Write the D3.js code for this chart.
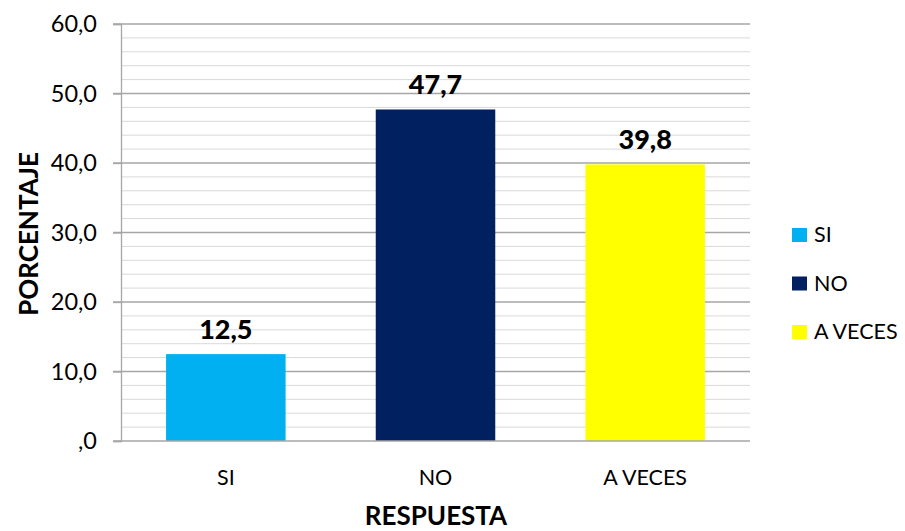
<!DOCTYPE html>
<html>
<head>
<meta charset="utf-8">
<script src="https://cdn.jsdelivr.net/npm/d3@7"></script>
<style>
  body { margin: 0; background: #fff; }
  svg text { font-family: Lato, "Open Sans", sans-serif; fill: #000; }
</style>
</head>
<body>
<svg id="chart" width="905" height="531"></svg>
<script>
// chart data
const categories = ["SI", "NO", "A VECES"];
const values = [12.5, 47.7, 39.8];
const colors = ["#00B0F0", "#002060", "#FFFF00"];
const yTicks = [0, 10, 20, 30, 40, 50, 60];

const svg = d3.select("#chart");
const plotLeft = 121, plotRight = 750, plotTop = 24, plotBottom = 441;

const x = d3.scaleBand()
  .domain(categories)
  .range([plotLeft, plotRight])
  .paddingInner(0.43)
  .paddingOuter(0.215);

const y = d3.scaleLinear().domain([0, 60]).range([plotBottom, plotTop]);

const fmt = v => v === 0 ? ",0" : v.toFixed(1).replace(".", ",");

// minor gridlines every 2
const minor = d3.range(2, 60, 2).filter(v => v % 10 !== 0);
svg.append("g").selectAll("line")
  .data(minor)
  .enter().append("line")
  .attr("x1", plotLeft).attr("x2", plotRight)
  .attr("y1", d => y(d)).attr("y2", d => y(d))
  .attr("stroke", "#d9d9d9").attr("stroke-width", 1);

// major gridlines
svg.append("g").selectAll("line")
  .data(yTicks.filter(v => v > 0))
  .enter().append("line")
  .attr("x1", plotLeft - 8).attr("x2", plotRight)
  .attr("y1", d => y(d)).attr("y2", d => y(d))
  .attr("stroke", "#a6a6a6").attr("stroke-width", 1.3);

// axis
const yAxis = d3.axisLeft(y).tickValues(yTicks).tickFormat(fmt).tickSize(8).tickPadding(16);
const ga = svg.append("g").attr("transform", `translate(${plotLeft},0)`).call(yAxis);
ga.select(".domain").attr("stroke", "#a6a6a6").attr("stroke-width", 1.3);
ga.selectAll(".tick line").attr("stroke", "#a6a6a6").attr("stroke-width", 1.3);
ga.selectAll("text").attr("font-size", 23.5).style("font-family", "Lato, sans-serif").attr("fill", "#000");

// bars
svg.append("g").selectAll("rect")
  .data(values)
  .enter().append("rect")
  .attr("x", (d, i) => x(categories[i]))
  .attr("width", x.bandwidth())
  .attr("y", d => y(d))
  .attr("height", d => plotBottom - y(d))
  .attr("fill", (d, i) => colors[i]);

// baseline
svg.append("line")
  .attr("x1", plotLeft - 8).attr("x2", plotRight)
  .attr("y1", plotBottom).attr("y2", plotBottom)
  .attr("stroke", "#a6a6a6").attr("stroke-width", 1.3);

// value labels
svg.append("g").selectAll("text")
  .data(values)
  .enter().append("text")
  .attr("x", (d, i) => x(categories[i]) + x.bandwidth() / 2)
  .attr("y", d => y(d) - 15)
  .attr("text-anchor", "middle")
  .attr("font-size", 27)
  .attr("font-weight", "900")
  .text(d => fmt(d));

// category labels
svg.append("g").selectAll("text")
  .data(categories)
  .enter().append("text")
  .attr("x", d => x(d) + x.bandwidth() / 2)
  .attr("y", 485)
  .attr("text-anchor", "middle")
  .attr("font-size", 21.5)
  .text(d => d);

// axis titles
svg.append("text")
  .attr("x", 436).attr("y", 525)
  .attr("text-anchor", "middle")
  .attr("font-size", 26).attr("font-weight", "bold")
  .text("RESPUESTA");

svg.append("text")
  .attr("transform", "translate(38,234) rotate(-90)")
  .attr("text-anchor", "middle")
  .attr("font-size", 26).attr("font-weight", "bold")
  .text("PORCENTAJE");

// legend
const legend = svg.append("g").selectAll("g")
  .data(categories)
  .enter().append("g")
  .attr("transform", (d, i) => `translate(792,${228 + i * 48.5})`);
legend.append("rect")
  .attr("width", 15).attr("height", 14)
  .attr("fill", (d, i) => colors[i]);
legend.append("text")
  .attr("x", 22).attr("y", 14)
  .attr("font-size", 21.5)
  .text(d => d);
</script>
</body>
</html>
